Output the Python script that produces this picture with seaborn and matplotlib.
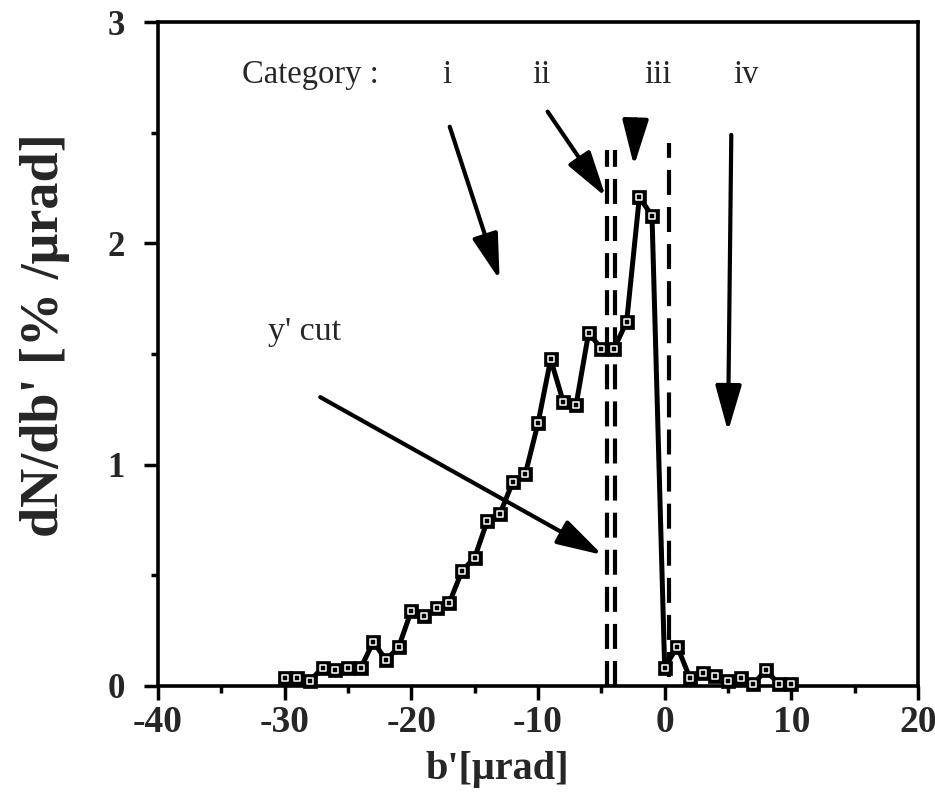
import matplotlib
matplotlib.use("Agg")
import matplotlib.pyplot as plt
import seaborn as sns
import pandas as pd

# ---- data ----
b_prime = list(range(-30, 11))
dn_db = [0.035, 0.035, 0.024, 0.083, 0.072, 0.080, 0.080, 0.200, 0.117, 0.176,
         0.340, 0.318, 0.351, 0.376, 0.520, 0.580, 0.747, 0.779, 0.920, 0.958,
         1.187, 1.476, 1.283, 1.268, 1.597, 1.523, 1.523, 1.646, 2.208, 2.125,
         0.083, 0.178, 0.035, 0.057, 0.047, 0.024, 0.035, 0.009, 0.072, 0.009,
         0.009]
x_ticks = [-40, -30, -20, -10, 0, 10, 20]
y_ticks = [0, 1, 2, 3]
category_labels = ["i", "ii", "iii", "iv"]
cut_lines = [-4.58, -3.91, 0.31]

df = pd.DataFrame({"b": b_prime, "dn": dn_db})

sns.set_style("ticks")
plt.rcParams["font.family"] = ["Liberation Serif", "DejaVu Serif"]

fig = plt.figure(figsize=(9.35, 8.0), dpi=100)
ax = fig.add_axes([158 / 935, 114 / 800, (918 - 158) / 935, (686 - 22) / 800])

# main curve
sns.lineplot(data=df, x="b", y="dn", ax=ax, color="black", lw=3.6,
             marker="s", markersize=10.5, markerfacecolor="black",
             markeredgecolor="black", markeredgewidth=0.5, clip_on=False,
             zorder=5)
sns.scatterplot(data=df, x="b", y="dn", ax=ax, marker="s", s=13,
                facecolor="black", edgecolor="white", linewidth=1.1,
                clip_on=False, zorder=6)

# dashed cut lines
ax.vlines([cut_lines[0], cut_lines[1]], 0, 2.42, colors="black", lw=3.0,
          linestyles=(0, (6.0, 2.9)), zorder=4)
ax.vlines([cut_lines[2]], 0.04, 2.455, colors="black", lw=3.0,
          linestyles=(0, (6.0, 2.9)), zorder=4)

# arrows
arrow_kw = dict(arrowstyle="-|>,head_length=0.7,head_width=0.2",
                mutation_scale=40, color="black", lw=3.0,
                shrinkA=0, shrinkB=0)
arrows = [((-16.97, 2.527), (-13.03, 1.835)),
          ((-9.24, 2.595), (-4.65, 2.21)),
          ((-2.3, 2.56), (-2.42, 2.35)),
          ((5.26, 2.49), (5.0, 1.15)),
          ((-27.19, 1.305), (-4.91, 0.592))]
for start, end in arrows:
    ax.annotate("", xy=end, xytext=start, arrowprops=arrow_kw, zorder=7)

# category texts
ax.text(-33.4, 2.76, "Category :", fontsize=23.5, ha="left", va="center")
cat_x = [-17.2, -9.7, -0.5, 6.4]
for lab, cx in zip(category_labels, cat_x):
    ax.text(cx, 2.76, lab, fontsize=23.5, ha="center", va="center")
ax.text(-31.3, 1.60, "y' cut", fontsize=24.5, ha="left", va="center")

# axes styling
ax.set_xlim(-40, 20)
ax.set_ylim(0, 3)
ax.set_xticks(x_ticks)
ax.set_yticks(y_ticks)
ax.set_xticks([-35, -25, -15, -5, 5, 15], minor=True)
ax.set_yticks([0.5, 1.5, 2.5], minor=True)
ax.set_xticklabels([str(t) for t in x_ticks], fontsize=27, fontweight="bold")
ax.set_yticklabels([str(t) for t in y_ticks], fontsize=25, fontweight="bold")
ax.tick_params(axis="both", which="major", direction="out", length=10,
               width=2.5, color="black")
ax.tick_params(axis="both", which="minor", direction="out", length=5,
               width=2.5, color="black")
ax.tick_params(axis="x", which="major", pad=4)
ax.tick_params(axis="y", which="major", pad=14)
for side in ["left", "bottom", "top", "right"]:
    ax.spines[side].set_visible(True)
    ax.spines[side].set_linewidth(2.6)
    ax.spines[side].set_color("black")
ax.set_xlabel("")
ax.set_ylabel("")

fig.text(497 / 935, 1 - 770 / 800, "b'[μrad]", fontsize=29, fontweight="bold",
         ha="center", va="center")
fig.text(45 / 935, 1 - 335 / 800, "dN/db' [% /μrad]", fontsize=39,
         fontweight="bold", ha="center", va="center", rotation=90)

fig.savefig("out.png", dpi=100)
